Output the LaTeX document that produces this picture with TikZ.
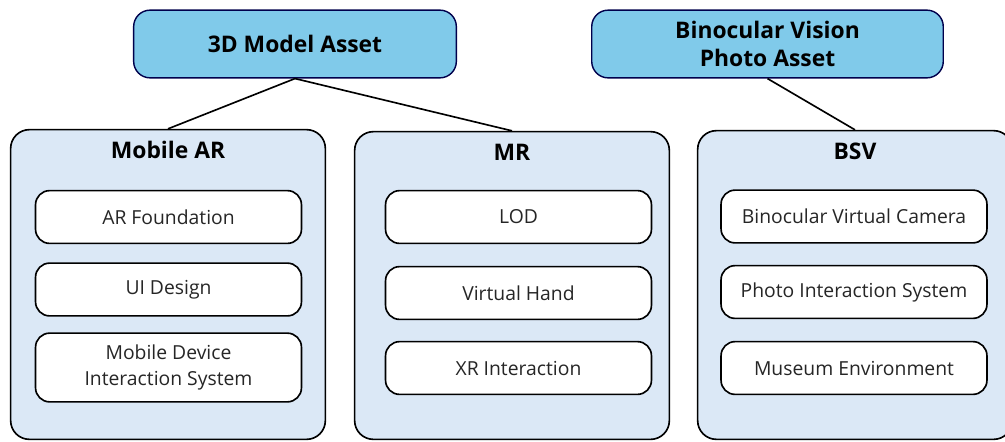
\documentclass[tikz,border=0pt]{standalone}
\usepackage{fontspec}
\setmainfont{Open Sans}
\usepackage{tikz}

\begin{document}
\begin{tikzpicture}[
    x=0.03cm, y=-0.03cm,
    asset/.style={rectangle, rounded corners=14pt, draw=black!70!blue, line width=1.2pt,
        fill=assetblue, minimum width=324*0.85pt, minimum height=68*0.85pt,
        align=center, font=\fontsize{19.5}{24.5}\selectfont\bfseries},
    group/.style={rectangle, rounded corners=16pt, draw=black, line width=1.4pt,
        fill=groupblue, minimum width=316*0.85pt, minimum height=311*0.85pt},
    title/.style={font=\fontsize{19.5}{24}\selectfont\bfseries},
    item/.style={rectangle, rounded corners=12pt, draw=black, line width=1.4pt,
        fill=white, minimum width=267*0.85pt, minimum height=53*0.85pt,
        align=center, font=\fontsize{16.5}{22}\selectfont, text=black!85},
    edge/.style={line width=1.4pt, -}
]
    \definecolor{assetblue}{RGB}{128,202,234}
    \definecolor{groupblue}{RGB}{219,232,246}
    \clip (0,0) rectangle (1005,441);
    % top row
    \node[asset] (model) at (295,44) {3D Model Asset};
    \node[asset, minimum width=353*0.85pt] (photo) at (767.5,44) {Binocular Vision\\Photo Asset};
    % groups
    \node[group] (ar) at (168,284.5) {};
    \node[group, minimum height=309*0.85pt] (mr) at (512,285.5) {};
    \node[group, minimum height=310*0.85pt] (bsv) at (855,285) {};
    \node[title] (artitle) at (168,150) {Mobile AR};
    \node[title] (mrtitle) at (512,152) {MR};
    \node[title] (bsvtitle) at (855,151) {BSV};
    % Mobile AR items
    \node[item] (arf) at (168.5,217) {AR Foundation};
    \node[item] (ui) at (168.5,289.5) {UI Design};
    \node[item, minimum height=69*0.85pt] (mdis) at (168.5,367.5) {Mobile Device\\Interaction System};
    % MR items
    \node[item] (lod) at (518.5,217) {LOD};
    \node[item] (hand) at (518.5,293) {Virtual Hand};
    \node[item] (xr) at (518.5,368) {XR Interaction};
    % BSV items
    \node[item] (cam) at (854,216.5) {Binocular Virtual Camera};
    \node[item] (pis) at (854,292) {Photo Interaction System};
    \node[item] (env) at (854,368) {Museum Environment};
    % connectors
    \draw[edge] (model.south) -- (ar.north);
    \draw[edge] (model.south) -- (mr.north);
    \draw[edge] (photo.south) -- (bsv.north);
\end{tikzpicture}
\end{document}
